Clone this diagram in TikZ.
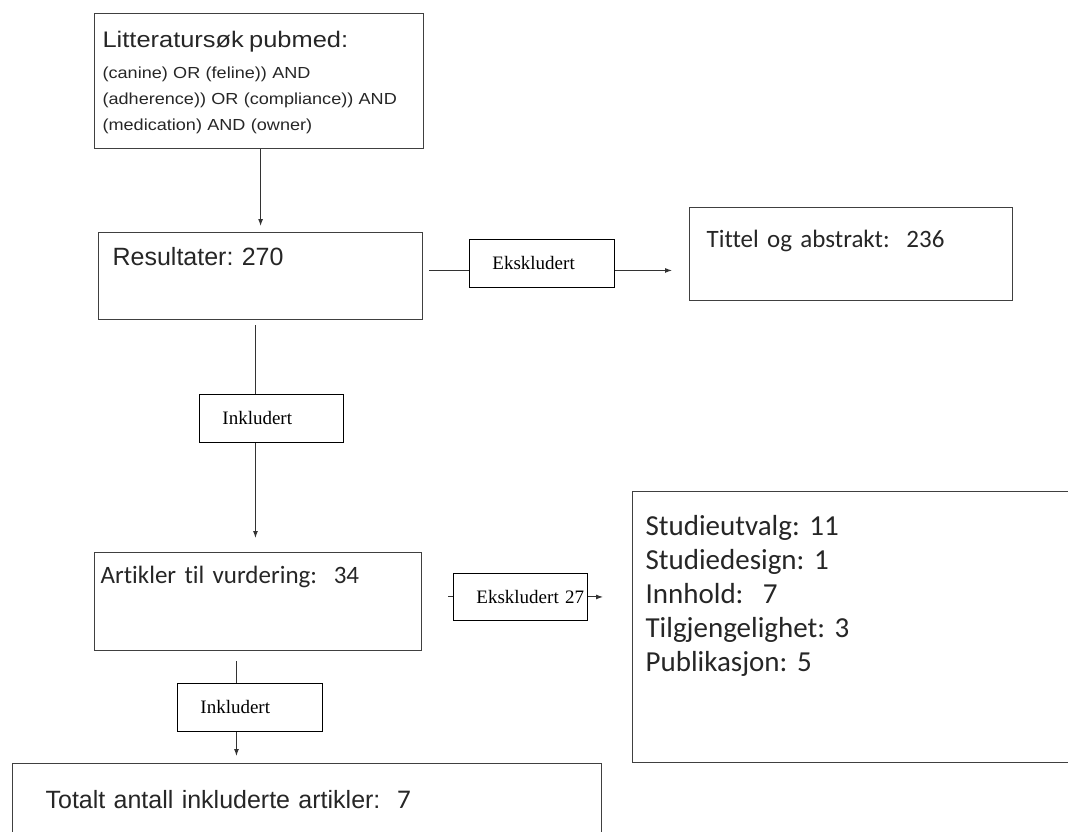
\documentclass[tikz,border=0pt]{standalone}
\usepackage{fontspec}
\setmainfont{Liberation Serif}
\newfontfamily\arialfont{Liberation Sans}
\newfontfamily\widearial[FakeStretch=1.13]{Liberation Sans}
\newfontfamily\calibrifont[Ligatures=NoCommon]{Carlito}
\frenchspacing
\usepackage{tikz}
\usetikzlibrary{arrows.meta}
\tikzstyle{bigbox}=[draw=black!75,line width=1.2pt,anchor=north west,inner ysep=0pt,align=left,text=black!85]
\tikzstyle{labelbox}=[draw=black,line width=0.9pt,anchor=north west,inner xsep=23pt,inner ysep=0pt,minimum height=48pt,align=left,font=\fontsize{19}{22}\selectfont]
\tikzstyle{conn}=[draw=black!80,line width=1pt]
\tikzstyle{connarrow}=[conn,-{Latex[length=7pt,width=5pt]}]

\begin{document}
\begin{tikzpicture}[x=1pt,y=-1pt]
  \useasboundingbox (0,0) rectangle (1068,832);
  \node[bigbox,inner xsep=8pt,text width=313pt,text height=34pt,text depth=101pt,
    font=\widearial\fontsize{16}{26}\selectfont] (lit) at (94,13)
    {{\fontsize{22.5}{26}\selectfont Litteratursøk pubmed:}\\[5pt]
     (canine) OR (feline)) AND\\
     (adherence)) OR (compliance)) AND\\
     (medication) AND (owner)};
  \node[bigbox,inner xsep=14pt,text width=296pt,text height=33pt,text depth=54pt,
    font=\arialfont\fontsize{25}{30}\selectfont] (res) at (98,232) {Resultater: 270};
  \node[bigbox,inner xsep=17pt,text width=289pt,text height=40pt,text depth=53pt,
    font=\calibrifont\fontsize{25}{30}\selectfont] (tit) at (689,207) {Tittel og abstrakt:~~236};
  \node[bigbox,inner xsep=6pt,text width=315pt,text height=31pt,text depth=67pt,
    font=\calibrifont\fontsize{25}{30}\selectfont] (art) at (94,552) {Artikler til vurdering:~~34};
  \node[bigbox,inner xsep=13pt,text width=412pt,text height=44pt,text depth=227pt,
    font=\calibrifont\fontsize{29}{34}\selectfont] (stud) at (632,491)
    {Studieutvalg: 11\\
     Studiedesign: 1\\
     Innhold:~~7\\
     Tilgjengelighet: 3\\
     Publikasjon: 5};
  \node[bigbox,inner xsep=33pt,text width=523pt,text height=45pt,text depth=26pt,
    font=\arialfont\fontsize{25}{30}\selectfont] (total) at (12,763)
    {Totalt antall inkluderte artikler:~~{\calibrifont\fontsize{27}{30}\selectfont 7}};

  \node[labelbox,text width=99pt] (exk1) at (469,239) {Ekskludert};
  \node[labelbox,text width=98pt] (ink1) at (199,394) {Inkludert};
  \node[labelbox,text width=88pt,minimum height=47pt] (exk2) at (453,573) {Ekskludert~27};
  \node[labelbox,text width=99pt] (ink2) at (177,683) {Inkludert};

  \draw[connarrow,shorten >=6pt] (res.north |- lit.south) -- (res.north);
  \draw[conn,shorten <=6pt] ([yshift=-7pt]exk1.west -| res.east) -- ([yshift=-7pt]exk1.west);
  \draw[connarrow,shorten >=17pt] ([yshift=-7pt]exk1.east) -- ([yshift=-7pt]exk1.east -| tit.west);
  \draw[conn,shorten <=5pt] ([xshift=-16pt]ink1.north |- res.south) -- ([xshift=-16pt]ink1.north);
  \draw[connarrow,shorten >=14pt] ([xshift=-16pt]ink1.south) -- ([xshift=-16pt]ink1.south |- art.north);
  \draw[conn,shorten <=26pt] (exk2.west -| art.east) -- (exk2.west);
  \draw[connarrow,shorten >=29pt] (exk2.east) -- (exk2.east -| stud.west);
  \draw[conn,shorten <=10pt] ([xshift=-13.5pt]ink2.north |- art.south) -- ([xshift=-13.5pt]ink2.north);
  \draw[connarrow,shorten >=7pt] ([xshift=-13.5pt]ink2.south) -- ([xshift=-13.5pt]ink2.south |- total.north);
\end{tikzpicture}
\end{document}
